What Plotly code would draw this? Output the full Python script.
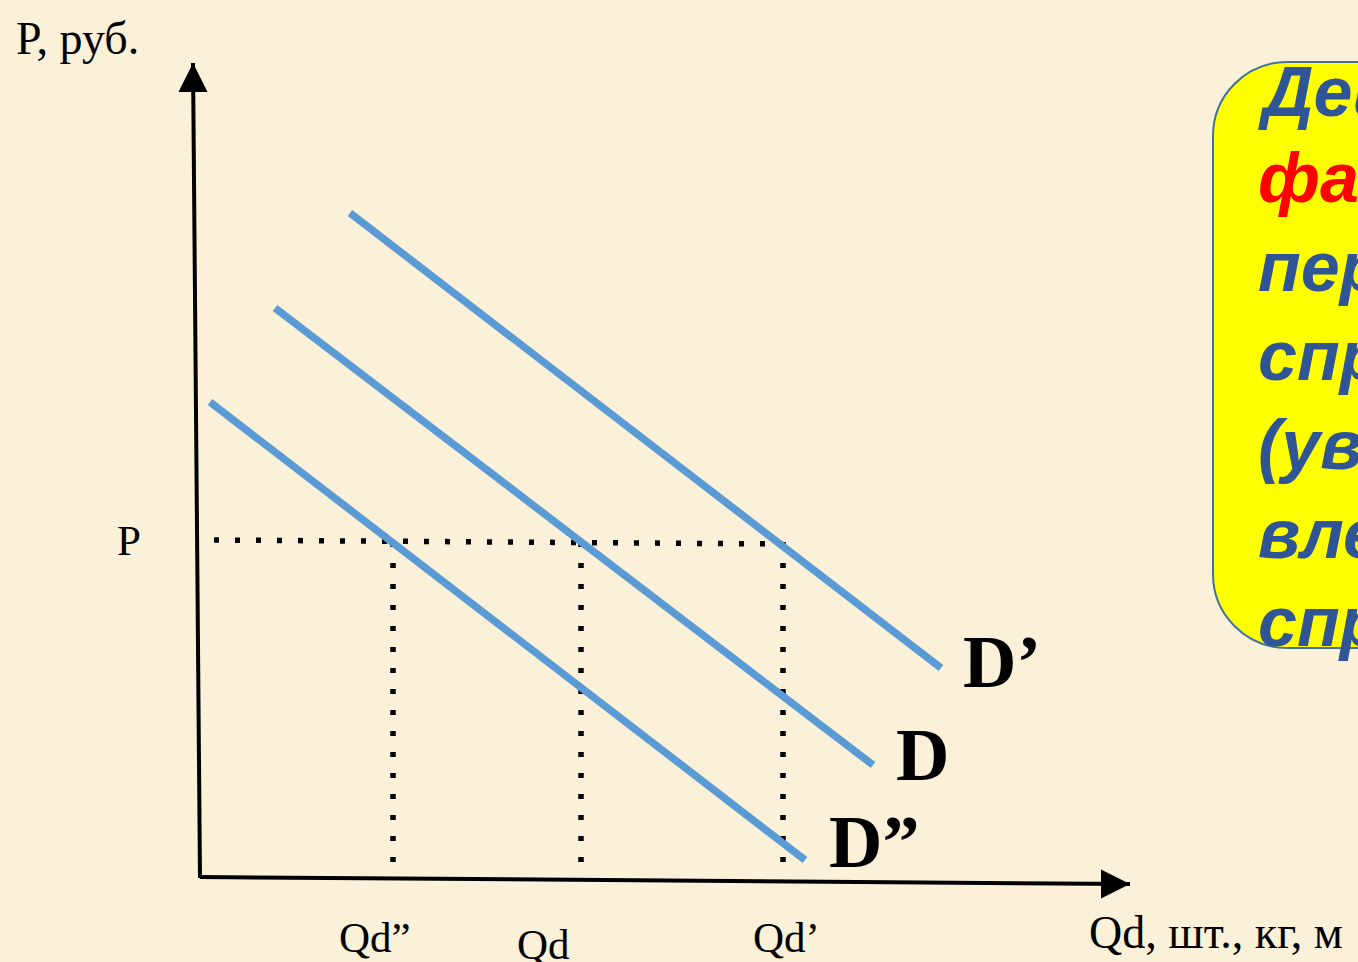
import plotly.graph_objects as go

W, H = 1358, 962
# data coordinates: Q (quantity) and P (price), arbitrary units
X_RANGE = [-20.0, 115.8]
Y_RANGE = [-8.4, 87.8]

# demand curves (Q, P endpoints)
curve_names = ["D’", "D", "D”"]
curve_q = [[15.0, 74.1], [7.5, 67.3], [1.0, 60.5]]
curve_p = [[66.5, 21.0], [57.0, 11.3], [47.6, 1.8]]
curve_label_q = [76.1, 69.4, 62.7]
curve_label_p = [21.6, 12.3, 3.6]

# price level and the quantities read at it
price_level = 33.8
price_q_start = 1.4
qd_values = [19.3, 38.1, 58.3]
qd_bottom = [1.3, 0.8, 0.0]
qd_tick_labels = ["Qd”", "Qd", "Qd’"]
qd_label_q = [17.5, 34.3, 58.6]
qd_label_p = [-5.9, -6.6, -5.9]

# axes (origin, tips)
y_axis_q = [0.0, -0.7]
y_axis_p = [0.0, 81.5]
x_axis_q = [0.0, 93.0]
x_axis_p = [0.1, -0.6]

box_lines = ["Действие", "факторов", "перемещает", "спрос", "(увеличение)", "влево", "спроса"]
box_colors = ["#2F5597", "#FF0000", "#2F5597", "#2F5597", "#2F5597", "#2F5597", "#2F5597"]
box_line_y = [92, 178, 267, 356, 445, 534, 622]

BLUE = "#5B9BD5"
SERIF = "Liberation Serif"
SANS = "Liberation Sans"
DOTS = "5px,16px"

fig = go.Figure()

# dotted guide lines
fig.add_trace(go.Scatter(x=[price_q_start, qd_values[2]], y=[price_level, price_level - 0.4],
                         mode="lines", line=dict(color="black", width=5.5, dash=DOTS),
                         hoverinfo="skip"))
for qv, qb in zip(qd_values, qd_bottom):
    fig.add_trace(go.Scatter(x=[qv, qv], y=[price_level - 0.2, qb], mode="lines",
                             line=dict(color="black", width=5.5, dash=DOTS),
                             hoverinfo="skip"))

# demand curves
for name, q, p in zip(curve_names, curve_q, curve_p):
    fig.add_trace(go.Scatter(x=q, y=p, mode="lines", name=name,
                             line=dict(color=BLUE, width=7.5), hoverinfo="skip"))

# axes
fig.add_trace(go.Scatter(x=y_axis_q, y=y_axis_p, mode="lines",
                         line=dict(color="black", width=4), hoverinfo="skip"))
fig.add_trace(go.Scatter(x=x_axis_q, y=x_axis_p, mode="lines",
                         line=dict(color="black", width=4), hoverinfo="skip"))
fig.add_trace(go.Scatter(x=[y_axis_q[1]], y=[y_axis_p[1]], mode="markers",
                         marker=dict(symbol="arrow-up", size=29, color="black", line=dict(width=0)),
                         hoverinfo="skip"))
fig.add_trace(go.Scatter(x=[x_axis_q[1]], y=[x_axis_p[1]], mode="markers",
                         marker=dict(symbol="arrow-right", size=29, color="black", line=dict(width=0)),
                         hoverinfo="skip"))

ann = []
for name, lq, lp in zip(curve_names, curve_label_q, curve_label_p):
    ann.append(dict(x=lq, y=lp, xref="x", yref="y", text=name, showarrow=False,
                    xanchor="left", yanchor="middle",
                    font=dict(family=SERIF, size=74, color="black", weight="bold")))
for t, lq, lp in zip(qd_tick_labels, qd_label_q, qd_label_p):
    ann.append(dict(x=lq, y=lp, xref="x", yref="y", text=t, showarrow=False,
                    xanchor="center", yanchor="middle",
                    font=dict(family=SERIF, size=43, color="black")))
ann.append(dict(x=-7.1, y=price_level, xref="x", yref="y", text="P", showarrow=False,
                xanchor="center", yanchor="middle", font=dict(family=SERIF, size=43, color="black")))
ann.append(dict(x=14 / W, y=1 - 38 / H, xref="paper", yref="paper", text="P, руб.", showarrow=False,
                xanchor="left", yanchor="middle", font=dict(family=SERIF, size=46, color="black")))
ann.append(dict(x=1087 / W, y=1 - 932 / H, xref="paper", yref="paper", text="Qd, шт., кг, м",
                showarrow=False, xanchor="left", yanchor="middle",
                font=dict(family=SERIF, size=46, color="black")))

for t, c, yy in zip(box_lines, box_colors, box_line_y):
    ann.append(dict(x=1256 / W, y=1 - yy / H, xref="paper", yref="paper", text=t, showarrow=False,
                    xanchor="left", yanchor="middle",
                    font=dict(family=SANS, size=70, color=c, weight="bold", style="italic")))

# rounded yellow box (pixel geometry converted to paper)
def px(x):
    return x / W

def py(y):
    return 1 - y / H

L, T, B, R = 1213, 62, 648, 1500
r = 74
k = 0.552 * r
path = (f"M {px(L + r)},{py(T)} L {px(R)},{py(T)} L {px(R)},{py(B)} L {px(L + r)},{py(B)} "
        f"C {px(L + r - k)},{py(B)} {px(L)},{py(B - r + k)} {px(L)},{py(B - r)} "
        f"L {px(L)},{py(T + r)} "
        f"C {px(L)},{py(T + r - k)} {px(L + r - k)},{py(T)} {px(L + r)},{py(T)} Z")

fig.update_layout(
    width=W, height=H,
    margin=dict(l=0, r=0, t=0, b=0),
    paper_bgcolor="#FBF0D8", plot_bgcolor="#FBF0D8",
    showlegend=False,
    xaxis=dict(range=X_RANGE, visible=False, fixedrange=True),
    yaxis=dict(range=Y_RANGE, visible=False, fixedrange=True),
    annotations=ann,
    shapes=[dict(type="path", path=path, xref="paper", yref="paper",
                 fillcolor="#FFFF00", line=dict(color="#41719C", width=2), layer="below")],
)

fig.write_html("out.html", config={"displayModeBar": False, "staticPlot": True},
               post_script="document.body.style.margin='0';document.body.style.overflow='hidden';")
